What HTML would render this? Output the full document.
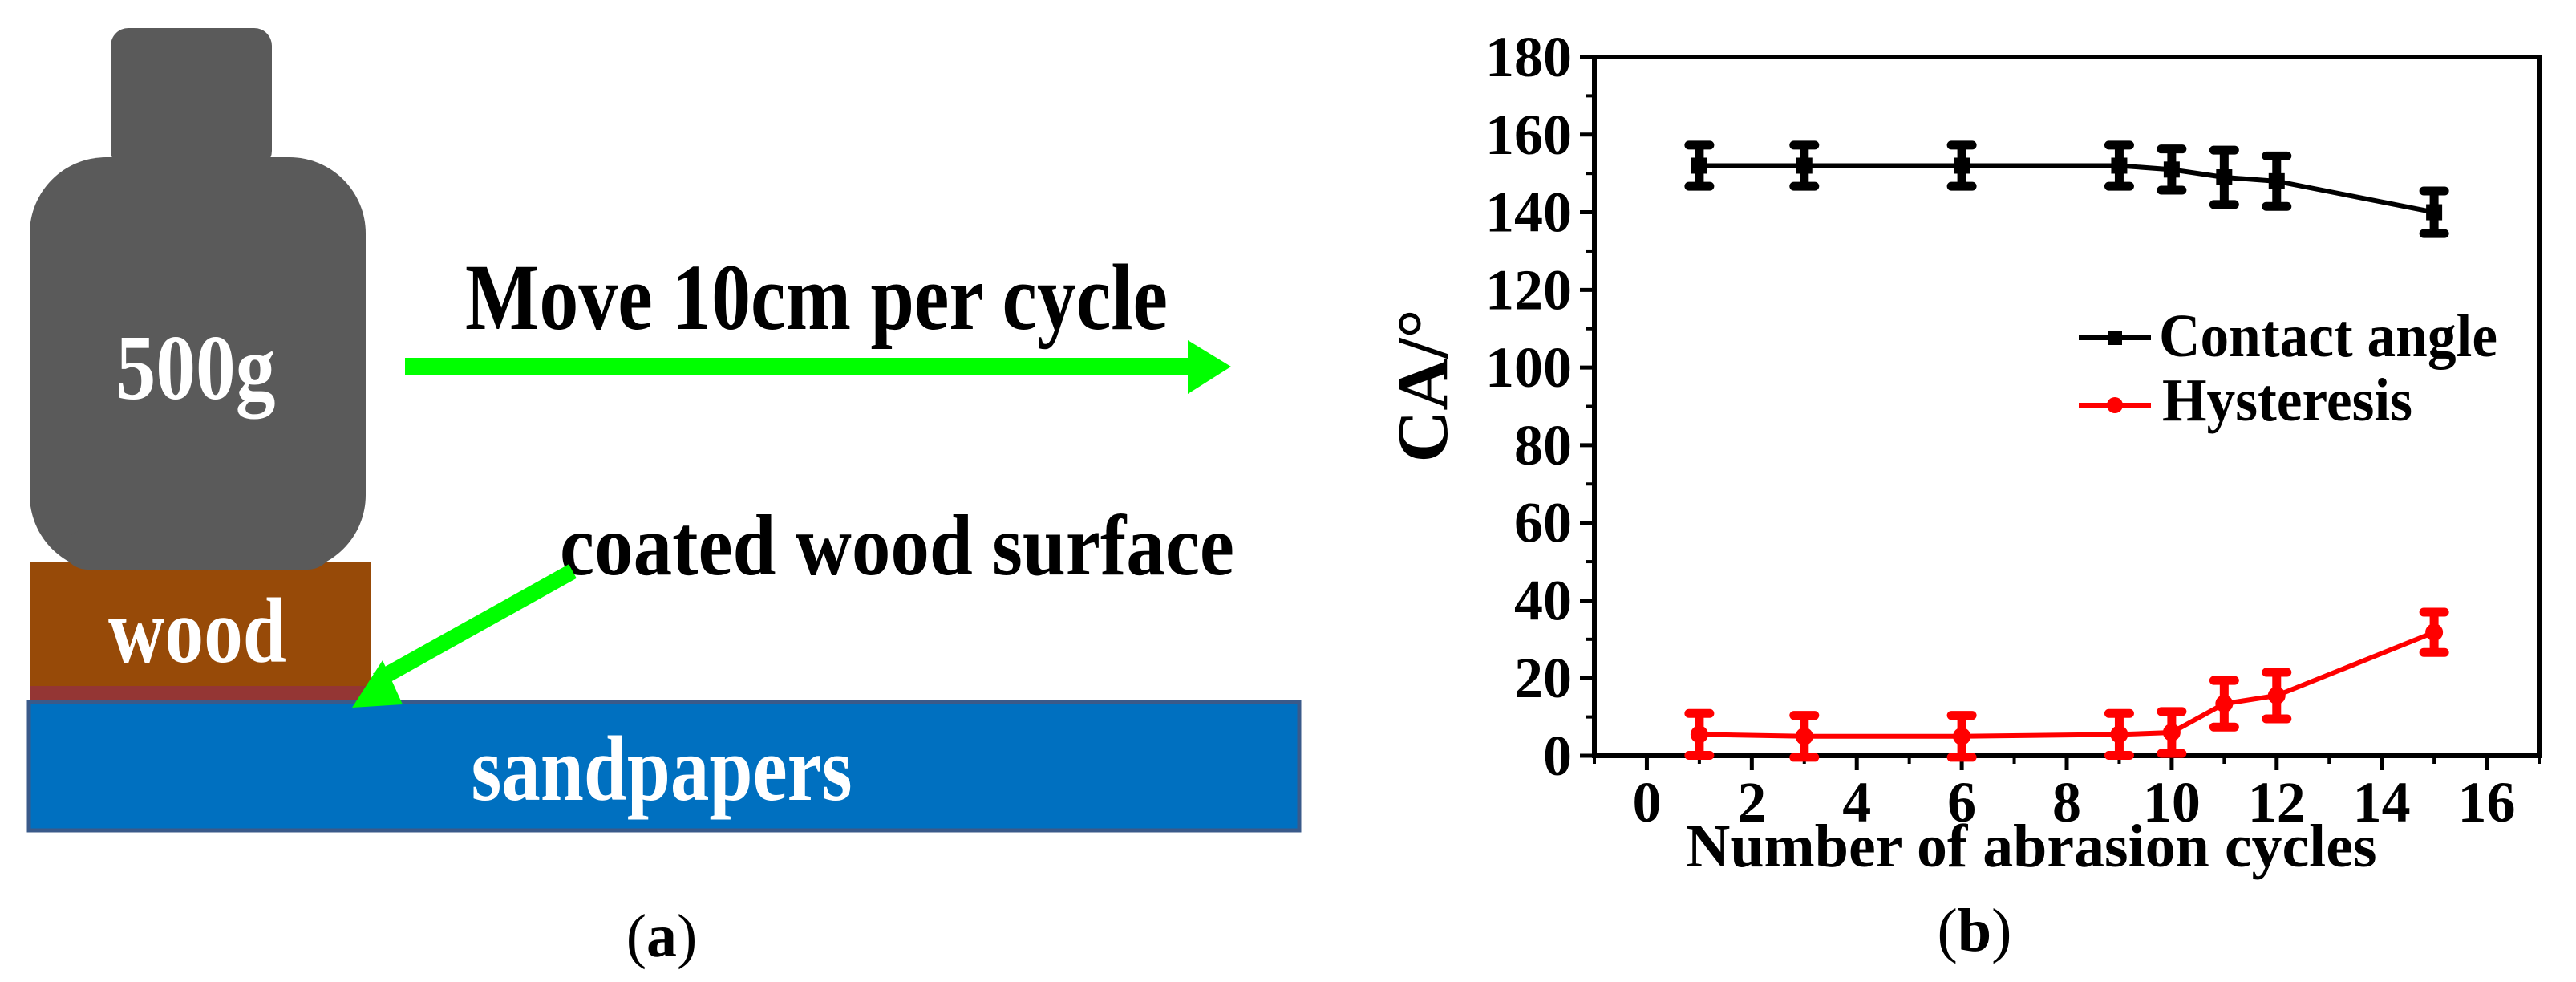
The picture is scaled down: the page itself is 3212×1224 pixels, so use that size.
<!DOCTYPE html>
<html><head><meta charset="utf-8">
<style>
html,body{margin:0;padding:0;background:#fff;}
svg{display:block;font-family:"Liberation Serif",serif;font-weight:bold;}
</style></head>
<body>
<svg id="root" width="3212" height="1224" viewBox="0 0 3212 1224" xmlns="http://www.w3.org/2000/svg">
<g>
  <rect x="138" y="35" width="201" height="175" rx="22" fill="#5a5a5a"/>
  <rect x="37" y="196" width="419" height="516" rx="95" fill="#5a5a5a"/>
  <rect x="37" y="701" width="426" height="156" fill="#974a08"/>
  <rect x="80" y="660" width="333" height="50" rx="30" fill="#5a5a5a"/>
  <rect x="37" y="855" width="426" height="25" fill="#943634"/>
  <rect x="36" y="875" width="1584" height="160" fill="#0070c0" stroke="#3a5a8a" stroke-width="5"/>
  <text x="244" y="497" font-size="115" fill="#fff" text-anchor="middle" textLength="199" lengthAdjust="spacingAndGlyphs">500g</text>
  <text x="246" y="825" font-size="115" fill="#fff" text-anchor="middle" textLength="222" lengthAdjust="spacingAndGlyphs">wood</text>
  <text x="825" y="997" font-size="115" fill="#fff" text-anchor="middle" textLength="475" lengthAdjust="spacingAndGlyphs">sandpapers</text>
  <text x="580" y="410" font-size="118" fill="#000" textLength="876" lengthAdjust="spacingAndGlyphs">Move 10cm per cycle</text>
  <polygon points="505,446 1481,446 1481,424 1535,457 1481,491 1481,468 505,468" fill="#00ff00"/>
  <text x="698" y="716" font-size="108" fill="#000" textLength="841" lengthAdjust="spacingAndGlyphs">coated wood surface</text>
  <line x1="714" y1="712" x2="470" y2="848" stroke="#00ff00" stroke-width="20"/>
  <polygon points="439,882 477,823 502,878" fill="#00ff00"/>
  <text x="825" y="1192" font-size="76" font-weight="normal" fill="#000" text-anchor="middle">(<tspan font-weight="bold">a</tspan>)</text>
</g>
<g id="chart"></g>
<text x="2462" y="1185" font-size="76" font-weight="normal" fill="#000" text-anchor="middle">(<tspan font-weight="bold">b</tspan>)</text>
</svg>
<script>
const cycles = [1, 3, 6, 9, 10, 11, 12, 15];
const contactAngle = [152, 152, 152, 152, 151, 149, 148, 140];
const contactErr = [5.3, 5.3, 5.3, 5.3, 5.3, 7, 6.5, 5.5];
const hysteresis = [5.5, 5, 5, 5.5, 6, 13.4, 15.5, 31.8];
const hystErr = [5.4, 5.4, 5.4, 5.4, 5.4, 6, 6, 5.2];
const xTicks = [0, 2, 4, 6, 8, 10, 12, 14, 16];
const yTicks = [0, 20, 40, 60, 80, 100, 120, 140, 160, 180];

const NS = 'http://www.w3.org/2000/svg';
const g = document.getElementById('chart');
const L = 1988, R = 3166, T = 71, B = 942;
const xMin = -1, xMax = 17, yMin = 0, yMax = 180;
function xs(v){ return L + (v - xMin) / (xMax - xMin) * (R - L); }
function ys(v){ return B - (v - yMin) / (yMax - yMin) * (B - T); }
function mk(tag, attrs, parent){
  const e = document.createElementNS(NS, tag);
  for (const k in attrs) e.setAttribute(k, attrs[k]);
  (parent || g).appendChild(e);
  return e;
}
let e;
e = mk('rect', {x: L, y: T, width: R - L, height: B - T, fill: 'none', stroke: '#000', 'stroke-width': 6});



xTicks.forEach(function(t){
  const x = xs(t);
  let tk = mk('line', {x1: x, y1: B, x2: x, y2: B + 18, stroke: '#000', 'stroke-width': 5});
  
  
  let m = mk('line', {x1: xs(t + 1), y1: B, x2: xs(t + 1), y2: B + 10, stroke: '#000', 'stroke-width': 4});
  
  
  let lb = mk('text', {x: x, y: 1024, 'font-size': 72, 'text-anchor': 'middle', fill: '#000'});
  lb.textContent = String(t);
  
  
});
let m0 = mk('line', {x1: xs(-1), y1: B, x2: xs(-1), y2: B + 10, stroke: '#000', 'stroke-width': 4});



yTicks.forEach(function(t){
  const y = ys(t);
  let tk = mk('line', {x1: L - 18, y1: y, x2: L, y2: y, stroke: '#000', 'stroke-width': 5});
  
  
  if (t < 180) {
    let m = mk('line', {x1: L - 10, y1: ys(t + 10), x2: L, y2: ys(t + 10), stroke: '#000', 'stroke-width': 4});
    
    
  }
  let lb = mk('text', {x: 1960, y: y + 24, 'font-size': 72, 'text-anchor': 'end', fill: '#000'});
  lb.textContent = String(t);
  
  
});

let xt = mk('text', {x: 2533, y: 1080, 'font-size': 76, 'text-anchor': 'middle', fill: '#000', textLength: 861, lengthAdjust: 'spacingAndGlyphs'});
xt.textContent = 'Number of abrasion cycles';


let yt = mk('text', {x: 0, y: 0, 'font-size': 90, 'text-anchor': 'middle', fill: '#000', transform: 'translate(1804,481) rotate(-90)'});
yt.textContent = 'CA/°';



function series(vals, errs, color, name, square){
  const pts = cycles.map(function(c, i){ return xs(c) + ',' + ys(vals[i]); }).join(' ');
  let pl = mk('polyline', {points: pts, fill: 'none', stroke: color, 'stroke-width': 6});
  
  
  cycles.forEach(function(c, i){
    const x = xs(c), y = ys(vals[i]), y1 = ys(vals[i] + errs[i]), y2 = ys(vals[i] - errs[i]);
    let eb = mk('path', {d: 'M' + x + ',' + y1 + 'V' + y2 + 'M' + (x - 13) + ',' + y1 + 'H' + (x + 13) + 'M' + (x - 13) + ',' + y2 + 'H' + (x + 13), stroke: color, 'stroke-width': 11, 'stroke-linecap': 'round', fill: 'none'});
    
    
    let p;
    if (square) p = mk('rect', {x: x - 10, y: y - 10, width: 20, height: 20, fill: color});
    else p = mk('circle', {cx: x, cy: y, r: 11, fill: color});
    
    
  });
}
series(contactAngle, contactErr, '#000', 'contact-angle', true);
series(hysteresis, hystErr, '#ff0000', 'hysteresis', false);

let lg = mk('g', {});


let l1 = mk('line', {x1: 2592, y1: 421, x2: 2682, y2: 421, stroke: '#000', 'stroke-width': 6}, lg);


let s1 = mk('rect', {x: 2628, y: 412, width: 18, height: 18, fill: '#000'}, lg);


let t1 = mk('text', {x: 2692, y: 444, 'font-size': 76, fill: '#000', textLength: 422, lengthAdjust: 'spacingAndGlyphs'}, lg);
t1.textContent = 'Contact angle';


let l2 = mk('line', {x1: 2592, y1: 505, x2: 2682, y2: 505, stroke: '#ff0000', 'stroke-width': 6}, lg);


let s2 = mk('circle', {cx: 2637, cy: 505, r: 10, fill: '#ff0000'}, lg);


let t2 = mk('text', {x: 2696, y: 524, 'font-size': 76, fill: '#000', textLength: 312, lengthAdjust: 'spacingAndGlyphs'}, lg);
t2.textContent = 'Hysteresis';


</script>
</body></html>
